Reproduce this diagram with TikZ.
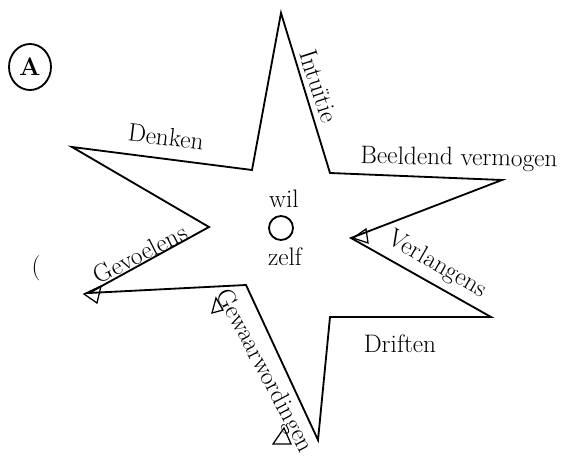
\documentclass[tikz,border=0pt]{standalone}
\usetikzlibrary{shapes.geometric}
\begin{document}
\begin{tikzpicture}[x=0.025cm, y=-0.025cm, line width=1.3pt,
  lbl/.style={font=\fontsize{18}{21}\selectfont, inner sep=1pt}]
\useasboundingbox (0,0) rectangle (579,459);

% points of the star
\coordinate (pT) at (281,13);
\coordinate (iTR) at (330,173);
\coordinate (pR) at (502,180);
\coordinate (iR) at (351,238);
\coordinate (pRB) at (491,317);
\coordinate (iBR) at (330,317);
\coordinate (pB) at (318,440);
\coordinate (iBL) at (246,285);
\coordinate (pLB) at (89,293);
\coordinate (iL) at (209,227);
\coordinate (pL) at (72,147);
\coordinate (iTL) at (252,170);

\draw (pT) -- (iTR) -- (pR) -- (iR) -- (pRB) -- (iBR) -- (pB) -- (iBL) -- (pLB) -- (iL) -- (pL) -- (iTL) -- cycle;

\node[lbl, rotate=-72] (intu) at (319,86) {Intuïtie};
\node[lbl, rotate=-1] (beeld) at (459,159) {Beeldend vermogen};
\node[lbl, rotate=-7] (denk) at (166,137) {Denken};
\node[lbl, rotate=27] (gevoel) at (140,254) {Gevoelens};
\node[lbl, rotate=-30] (verl) at (437,265) {Verlangens};
\node[lbl] (drift) at (400,344) {Driften};
\node[lbl, rotate=-62] (gewaar) at (264,371) {Gewaarwordingen};

\node[lbl] (wil) at (284,199) {wil};
\node[draw, circle, minimum size=0.6cm, inner sep=0pt] (kern) at (281,228) {};
\node[lbl] (zelf) at (285,257) {zelf};

\node[draw, ellipse, minimum width=1.05cm, minimum height=1.15cm, inner sep=0pt, font=\fontsize{18}{21}\selectfont\bfseries] (letA) at (30,67) {A};
\node[lbl] (haak) at (36,268) {(};

% small triangles
\draw[line width=0.9pt] (84,294) -- (101,286) -- (97,303) -- cycle;
\draw[line width=0.9pt] (273,444) -- (284,428) -- (291,444) -- cycle;
\draw[line width=0.9pt] (212,313) -- (216,298) -- (223,310) -- cycle;
\draw[line width=0.9pt] (353,238) -- (366,229) -- (368,243) -- cycle;
\end{tikzpicture}
\end{document}
